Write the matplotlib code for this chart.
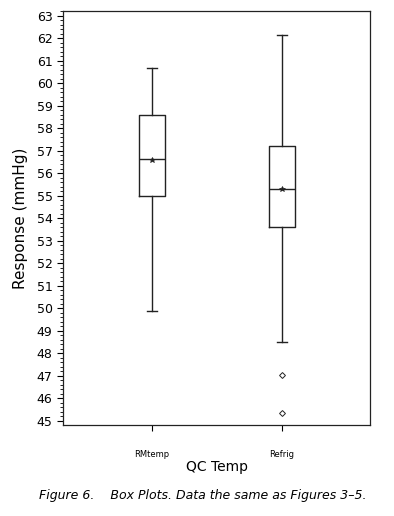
import matplotlib
matplotlib.use('Agg')
import matplotlib.pyplot as plt
from matplotlib.ticker import MultipleLocator

# box plot summaries
groups = ['RMtemp', 'Refrig']
whislo = [49.9, 48.5]
q1 = [55.0, 53.62]
med = [56.63, 55.33]
mean = [56.58, 55.33]
q3 = [58.6, 57.2]
whishi = [60.68, 62.16]
fliers = [[], [47.04, 45.34]]

stats = []
for i, g in enumerate(groups):
    stats.append(dict(label=g, whislo=whislo[i], q1=q1[i], med=med[i],
                      mean=mean[i], q3=q3[i], whishi=whishi[i],
                      fliers=fliers[i]))

plt.rcParams.update({"font.family": "DejaVu Sans"})

fig = plt.figure(figsize=(3.94, 5.16), dpi=100)
ax = fig.add_axes([63/394, 1 - 425/516, 307/394, 414/516])

lc = '#222222'
ax.bxp(stats, positions=[1, 2], widths=0.2, capwidths=0.08,
       showmeans=True, showfliers=True,
       boxprops=dict(color=lc, lw=1.0),
       whiskerprops=dict(color=lc, lw=1.0),
       capprops=dict(color=lc, lw=1.0),
       medianprops=dict(color=lc, lw=1.0),
       meanprops=dict(marker='*', markersize=4, markerfacecolor=lc,
                      markeredgecolor=lc, markeredgewidth=0.5),
       flierprops=dict(marker='D', markersize=3, markerfacecolor='white',
                       markeredgecolor=lc, markeredgewidth=0.7))

ax.set_xlim(0.315, 2.677)
ax.set_ylim(44.82, 63.22)
ax.yaxis.set_major_locator(MultipleLocator(1))
ax.yaxis.set_minor_locator(MultipleLocator(0.2))
ax.tick_params(axis='y', which='major', labelsize=9, length=4, width=0.8)
ax.tick_params(axis='y', which='minor', length=2, width=0.6)
ax.tick_params(axis='x', labelsize=6, length=4, width=0.8, pad=14)
ax.set_xticks([1, 2])
ax.set_xticklabels(groups)
for s in ax.spines.values():
    s.set_linewidth(0.9)
    s.set_color(lc)

ax.set_ylabel('Response (mmHg)', fontsize=11, labelpad=6)
ax.set_xlabel('QC Temp', fontsize=10, labelpad=1)

fig.text(39/394, 1 - 496/516, 'Figure 6.    Box Plots. Data the same as Figures 3\u20135.',
         fontsize=9, style='italic', va='center', ha='left')

fig.savefig('out.png', dpi=100)
